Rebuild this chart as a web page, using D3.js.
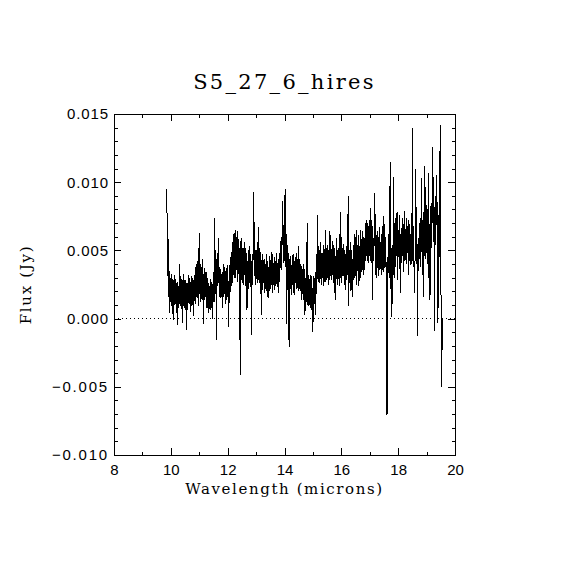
<!DOCTYPE html>
<html>
<head>
<meta charset="utf-8">
<script src="https://cdn.jsdelivr.net/npm/d3@7"></script>
<style>
  body { margin: 0; background: #fff; }
  svg { display: block; font-family: "DejaVu Serif", serif; }
</style>
</head>
<body>
<div id="chart"></div>
<script>
// spectrum (microns, Jy)
const wavelength = [
  9.86, 9.88, 9.90, 9.92, 9.94, 9.96, 9.98, 10.00, 10.02, 10.04, 10.06, 10.08, 10.10, 10.12, 10.14,
  10.16, 10.18, 10.20, 10.22, 10.24, 10.26, 10.28, 10.30, 10.32, 10.34, 10.36, 10.38, 10.40, 10.42, 10.44,
  10.46, 10.48, 10.50, 10.52, 10.54, 10.56, 10.58, 10.60, 10.62, 10.64, 10.66, 10.68, 10.70, 10.72, 10.74,
  10.76, 10.78, 10.80, 10.82, 10.84, 10.86, 10.88, 10.90, 10.92, 10.94, 10.96, 10.98, 11.00, 11.02, 11.04,
  11.06, 11.08, 11.10, 11.12, 11.14, 11.16, 11.18, 11.20, 11.22, 11.24, 11.26, 11.28, 11.30, 11.32, 11.34,
  11.36, 11.38, 11.40, 11.42, 11.44, 11.46, 11.48, 11.50, 11.52, 11.54, 11.56, 11.58, 11.60, 11.62, 11.64,
  11.66, 11.68, 11.70, 11.72, 11.74, 11.76, 11.78, 11.80, 11.82, 11.84, 11.86, 11.88, 11.90, 11.92, 11.94,
  11.96, 11.98, 12.00, 12.02, 12.04, 12.06, 12.08, 12.10, 12.12, 12.14, 12.16, 12.18, 12.20, 12.22, 12.24,
  12.26, 12.28, 12.30, 12.32, 12.34, 12.36, 12.38, 12.40, 12.42, 12.44, 12.46, 12.48, 12.50, 12.52, 12.54,
  12.56, 12.58, 12.60, 12.62, 12.64, 12.66, 12.68, 12.70, 12.72, 12.74, 12.76, 12.78, 12.80, 12.82, 12.84,
  12.86, 12.88, 12.90, 12.92, 12.94, 12.96, 12.98, 13.00, 13.02, 13.04, 13.06, 13.08, 13.10, 13.12, 13.14,
  13.16, 13.18, 13.20, 13.22, 13.24, 13.26, 13.28, 13.30, 13.32, 13.34, 13.36, 13.38, 13.40, 13.42, 13.44,
  13.46, 13.48, 13.50, 13.52, 13.54, 13.56, 13.58, 13.60, 13.62, 13.64, 13.66, 13.68, 13.70, 13.72, 13.74,
  13.76, 13.78, 13.80, 13.82, 13.84, 13.86, 13.88, 13.90, 13.92, 13.94, 13.96, 13.98, 14.00, 14.02, 14.04,
  14.06, 14.08, 14.10, 14.12, 14.14, 14.16, 14.18, 14.20, 14.22, 14.24, 14.26, 14.28, 14.30, 14.32, 14.34,
  14.36, 14.38, 14.40, 14.42, 14.44, 14.46, 14.48, 14.50, 14.52, 14.54, 14.56, 14.58, 14.60, 14.62, 14.64,
  14.66, 14.68, 14.70, 14.72, 14.74, 14.76, 14.78, 14.80, 14.82, 14.84, 14.86, 14.88, 14.90, 14.92, 14.94,
  14.96, 14.98, 15.00, 15.02, 15.04, 15.06, 15.08, 15.10, 15.12, 15.14, 15.16, 15.18, 15.20, 15.22, 15.24,
  15.26, 15.28, 15.30, 15.32, 15.34, 15.36, 15.38, 15.40, 15.42, 15.44, 15.46, 15.48, 15.50, 15.52, 15.54,
  15.56, 15.58, 15.60, 15.62, 15.64, 15.66, 15.68, 15.70, 15.72, 15.74, 15.76, 15.78, 15.80, 15.82, 15.84,
  15.86, 15.88, 15.90, 15.92, 15.94, 15.96, 15.98, 16.00, 16.02, 16.04, 16.06, 16.08, 16.10, 16.12, 16.14,
  16.16, 16.18, 16.20, 16.22, 16.24, 16.26, 16.28, 16.30, 16.32, 16.34, 16.36, 16.38, 16.40, 16.42, 16.44,
  16.46, 16.48, 16.50, 16.52, 16.54, 16.56, 16.58, 16.60, 16.62, 16.64, 16.66, 16.68, 16.70, 16.72, 16.74,
  16.76, 16.78, 16.80, 16.82, 16.84, 16.86, 16.88, 16.90, 16.92, 16.94, 16.96, 16.98, 17.00, 17.02, 17.04,
  17.06, 17.08, 17.10, 17.12, 17.14, 17.16, 17.18, 17.20, 17.22, 17.24, 17.26, 17.28, 17.30, 17.32, 17.34,
  17.36, 17.38, 17.40, 17.42, 17.44, 17.46, 17.48, 17.50, 17.52, 17.54, 17.56, 17.58, 17.60, 17.62, 17.64,
  17.66, 17.68, 17.70, 17.72, 17.74, 17.76, 17.78, 17.80, 17.82, 17.84, 17.86, 17.88, 17.90, 17.92, 17.94,
  17.96, 17.98, 18.00, 18.02, 18.04, 18.06, 18.08, 18.10, 18.12, 18.14, 18.16, 18.18, 18.20, 18.22, 18.24,
  18.26, 18.28, 18.30, 18.32, 18.34, 18.36, 18.38, 18.40, 18.42, 18.44, 18.46, 18.48, 18.50, 18.52, 18.54,
  18.56, 18.58, 18.60, 18.62, 18.64, 18.66, 18.68, 18.70, 18.72, 18.74, 18.76, 18.78, 18.80, 18.82, 18.84,
  18.86, 18.88, 18.90, 18.92, 18.94, 18.96, 18.98, 19.00, 19.02, 19.04, 19.06, 19.08, 19.10, 19.12, 19.14,
  19.16, 19.18, 19.20, 19.22, 19.24, 19.26, 19.28, 19.30, 19.32, 19.34, 19.36, 19.38, 19.40, 19.42, 19.44,
  19.46, 19.48, 19.50, 19.52, 19.54, 19.56
];

const flux = [
  0.0095, 0.0031, 0.0060, 0.0016, 0.0035, 0.0004, 0.0030, 0.0012, 0.0033, 0.0009, 0.0029, -0.0001, 0.0028, 0.0010, 0.0032,
  0.0011, 0.0029, 0.0004, 0.0027, -0.0005, 0.0024, 0.0008, 0.0040, 0.0011, 0.0031, 0.0007, 0.0029, -0.0003, 0.0028, 0.0009,
  0.0033, 0.0008, 0.0028, 0.0006, 0.0026, -0.0008, 0.0026, 0.0006, 0.0032, 0.0011, 0.0030, 0.0005, 0.0027, 0.0009, 0.0031,
  0.0010, 0.0030, 0.0002, 0.0032, 0.0013, 0.0038, 0.0011, 0.0040, 0.0016, 0.0042, 0.0009, 0.0036, 0.0063, 0.0018, 0.0040,
  0.0012, 0.0038, 0.0016, 0.0044, -0.0004, 0.0033, 0.0014, 0.0037, 0.0016, 0.0034, 0.0008, 0.0030, 0.0008, 0.0026, 0.0004,
  0.0024, 0.0006, 0.0029, 0.0008, 0.0027, 0.0000, 0.0023, 0.0034, 0.0012, 0.0074, 0.0022, 0.0050, -0.0016, 0.0044, 0.0024,
  0.0048, 0.0059, 0.0016, 0.0038, 0.0015, 0.0036, 0.0016, 0.0033, 0.0008, 0.0040, 0.0016, 0.0038, 0.0018, 0.0035, 0.0011,
  0.0037, 0.0016, 0.0039, 0.0020, -0.0006, 0.0039, 0.0016, 0.0045, 0.0024, 0.0049, 0.0026, 0.0056, 0.0032, 0.0062, 0.0030,
  0.0065, 0.0030, 0.0060, 0.0036, 0.0064, 0.0027, 0.0058, 0.0032, 0.0052, -0.0041, 0.0057, 0.0028, 0.0059, 0.0026, 0.0052,
  0.0025, 0.0056, 0.0032, 0.0052, 0.0024, 0.0048, 0.0006, 0.0042, 0.0022, 0.0050, 0.0026, 0.0053, 0.0023, 0.0047, -0.0012,
  0.0047, 0.0025, 0.0055, 0.0093, 0.0031, 0.0054, 0.0025, 0.0050, 0.0029, 0.0056, 0.0026, 0.0067, 0.0028, 0.0052, 0.0024,
  0.0049, 0.0003, 0.0043, 0.0021, 0.0047, 0.0026, 0.0044, 0.0019, 0.0040, 0.0022, 0.0047, 0.0020, 0.0042, 0.0015, 0.0038,
  0.0020, 0.0046, 0.0022, 0.0043, 0.0025, 0.0049, 0.0019, 0.0041, 0.0025, 0.0045, 0.0021, 0.0042, 0.0024, 0.0048, 0.0023,
  0.0041, 0.0019, 0.0044, 0.0027, 0.0048, 0.0037, 0.0060, 0.0036, 0.0065, 0.0086, 0.0041, 0.0064, 0.0042, 0.0095, 0.0038,
  0.0062, -0.0004, 0.0054, 0.0030, 0.0048, -0.0021, 0.0044, 0.0022, 0.0046, 0.0017, 0.0039, 0.0025, 0.0047, 0.0019, 0.0042,
  0.0017, 0.0045, 0.0026, 0.0048, 0.0022, 0.0044, 0.0020, 0.0053, 0.0022, 0.0044, 0.0020, 0.0040, 0.0014, 0.0036, 0.0018,
  0.0040, 0.0014, 0.0036, 0.0003, 0.0030, 0.0012, 0.0033, 0.0070, 0.0010, 0.0032, 0.0009, 0.0029, 0.0008, 0.0032, 0.0006,
  0.0031, 0.0011, -0.0010, 0.0031, 0.0011, 0.0030, 0.0003, 0.0034, 0.0018, 0.0040, 0.0076, 0.0027, 0.0053, 0.0026, 0.0050,
  0.0029, 0.0056, 0.0025, 0.0048, 0.0030, 0.0054, 0.0024, 0.0051, 0.0027, 0.0065, 0.0027, 0.0052, 0.0030, 0.0054, 0.0025,
  0.0050, 0.0028, 0.0064, 0.0031, 0.0051, 0.0028, 0.0057, 0.0032, 0.0054, 0.0026, 0.0052, 0.0014, 0.0046, 0.0029, 0.0059,
  0.0025, 0.0050, 0.0029, 0.0054, 0.0024, 0.0078, 0.0030, 0.0060, 0.0026, 0.0052, 0.0031, 0.0055, 0.0025, 0.0050, 0.0021,
  0.0047, 0.0028, 0.0054, 0.0032, 0.0090, 0.0009, 0.0050, 0.0026, 0.0056, 0.0020, 0.0050, 0.0016, 0.0044, 0.0028, 0.0054,
  0.0030, 0.0062, 0.0031, 0.0065, 0.0025, 0.0054, 0.0035, 0.0061, 0.0024, 0.0053, 0.0030, 0.0065, 0.0034, 0.0058, 0.0036,
  0.0064, 0.0032, 0.0059, 0.0036, 0.0070, 0.0042, 0.0072, 0.0046, 0.0070, 0.0041, 0.0068, 0.0046, 0.0072, 0.0042, 0.0081,
  0.0041, 0.0068, 0.0014, 0.0059, 0.0042, 0.0064, 0.0092, 0.0032, 0.0061, 0.0030, 0.0064, 0.0037, 0.0060, 0.0031, 0.0067,
  0.0036, 0.0056, 0.0032, 0.0062, 0.0036, 0.0064, 0.0075, 0.0034, 0.0069, 0.0038, 0.0060, 0.0030, -0.0071, -0.0068, 0.0042,
  0.0062, 0.0030, 0.0064, 0.0115, 0.0022, 0.0052, 0.0001, 0.0054, 0.0032, 0.0104, 0.0030, 0.0070, 0.0038, 0.0074, 0.0046,
  0.0078, 0.0028, 0.0065, 0.0045, 0.0076, 0.0042, 0.0019, 0.0062, 0.0041, 0.0074, 0.0046, 0.0069, 0.0034, 0.0079, 0.0042,
  0.0066, 0.0040, 0.0074, 0.0048, 0.0068, 0.0032, 0.0072, 0.0042, 0.0062, 0.0039, 0.0060, 0.0040, 0.0140, 0.0042, 0.0068,
  0.0034, 0.0019, 0.0054, 0.0110, 0.0040, 0.0064, -0.0013, 0.0059, 0.0035, 0.0070, 0.0044, 0.0074, 0.0038, 0.0103, 0.0046,
  0.0072, 0.0016, 0.0078, 0.0046, 0.0112, 0.0044, 0.0083, 0.0048, 0.0080, 0.0040, 0.0107, 0.0030, 0.0069, 0.0014, 0.0074,
  0.0085, 0.0052, 0.0084, 0.0126, 0.0056, 0.0088, -0.0009, 0.0090, 0.0054, 0.0079, 0.0105, 0.0046, -0.0003, 0.0076, 0.0045,
  0.0088, 0.0142, 0.0060, -0.0050, 0.0005, -0.0023
];

const xTicks = [8, 10, 12, 14, 16, 18, 20];
const xMinor = [9, 11, 13, 15, 17, 19];
const yTicks = [-0.010, -0.005, 0.000, 0.005, 0.010, 0.015];
const yMinor = [-0.009, -0.008, -0.007, -0.006, -0.004, -0.003, -0.002, -0.001,
  0.001, 0.002, 0.003, 0.004, 0.006, 0.007, 0.008, 0.009, 0.011, 0.012, 0.013, 0.014];

const w = 570;
const h = 570;
const margin = { top: 114, right: 115, bottom: 115, left: 114 };
const innerWidth = w - margin.left - margin.right;
const innerHeight = h - margin.top - margin.bottom;
const majorLen = 7;
const minorLen = 3.5;

const xScale = d3.scaleLinear().domain([8, 20]).range([0, innerWidth]);
const yScale = d3.scaleLinear().domain([-0.010, 0.015]).range([innerHeight, 0]);

const svg = d3.select("#chart")
  .append("svg")
  .attr("width", w)
  .attr("height", h);

svg.append("rect").attr("width", w).attr("height", h).attr("fill", "#fff");

const g = svg.append("g")
  .attr("transform", `translate(${margin.left},${margin.top})`);

// zero line
g.append("line")
  .attr("x1", 0).attr("x2", innerWidth)
  .attr("y1", yScale(0)).attr("y2", yScale(0))
  .attr("stroke", "#000")
  .attr("stroke-dasharray", "1,3")
  .attr("shape-rendering", "crispEdges");

// spectrum
const n = Math.min(wavelength.length, flux.length);
const points = wavelength.slice(0, n).map((d, i) => [d, flux[i]]);
const lineGenerator = d3.line()
  .x(d => xScale(d[0]))
  .y(d => yScale(d[1]));

g.append("path")
  .attr("d", lineGenerator(points))
  .attr("fill", "none")
  .attr("stroke", "#000")
  .attr("stroke-width", 1)
  .attr("shape-rendering", "crispEdges");

// axes, IDL style: ticks inward on all four sides
function clean(sel) {
  sel.select(".domain").remove();
  sel.selectAll("line").attr("stroke", "#000").attr("shape-rendering", "crispEdges");
}
function noLabels(sel) {
  sel.selectAll("text").remove();
}

g.append("g").attr("transform", `translate(0,${innerHeight})`)
  .call(d3.axisBottom(xScale).tickValues(xTicks).tickSize(-majorLen).tickPadding(9).tickFormat(d3.format("d")))
  .call(clean)
  .call(a => a.selectAll("text")
    .attr("font-size", 15)
    .attr("fill", "#000"));
g.append("g").attr("transform", `translate(0,${innerHeight})`)
  .call(d3.axisBottom(xScale).tickValues(xMinor).tickSize(-minorLen))
  .call(clean).call(noLabels);
g.append("g")
  .call(d3.axisTop(xScale).tickValues(xTicks).tickSize(-majorLen))
  .call(clean).call(noLabels);
g.append("g")
  .call(d3.axisTop(xScale).tickValues(xMinor).tickSize(-minorLen))
  .call(clean).call(noLabels);

g.append("g")
  .call(d3.axisLeft(yScale).tickValues(yTicks).tickSize(-majorLen).tickPadding(5).tickFormat(d3.format(".3f")))
  .call(clean)
  .call(a => a.selectAll("text")
    .attr("font-size", 15)
    .attr("fill", "#000")
    .attr("letter-spacing", d => d < 0 ? 1.8 : 0.9));
g.append("g")
  .call(d3.axisLeft(yScale).tickValues(yMinor).tickSize(-minorLen))
  .call(clean).call(noLabels);
g.append("g").attr("transform", `translate(${innerWidth},0)`)
  .call(d3.axisRight(yScale).tickValues(yTicks).tickSize(-majorLen))
  .call(clean).call(noLabels);
g.append("g").attr("transform", `translate(${innerWidth},0)`)
  .call(d3.axisRight(yScale).tickValues(yMinor).tickSize(-minorLen))
  .call(clean).call(noLabels);

// frame
g.append("rect")
  .attr("width", innerWidth)
  .attr("height", innerHeight)
  .attr("fill", "none")
  .attr("stroke", "#000")
  .attr("shape-rendering", "crispEdges");

// titles
svg.append("text")
  .attr("x", margin.left + innerWidth / 2)
  .attr("y", 89)
  .attr("text-anchor", "middle")
  .attr("font-size", 21)
  .attr("letter-spacing", 2.3)
  .text("S5_27_6_hires");

svg.append("text")
  .attr("x", margin.left + innerWidth / 2)
  .attr("y", 494)
  .attr("text-anchor", "middle")
  .attr("font-size", 15)
  .attr("letter-spacing", 1.6)
  .text("Wavelength (microns)");

svg.append("text")
  .attr("transform", `translate(31,${margin.top + innerHeight / 2}) rotate(-90)`)
  .attr("text-anchor", "middle")
  .attr("font-size", 15)
  .attr("letter-spacing", 1.7)
  .text("Flux (Jy)");
</script>
</body>
</html>
